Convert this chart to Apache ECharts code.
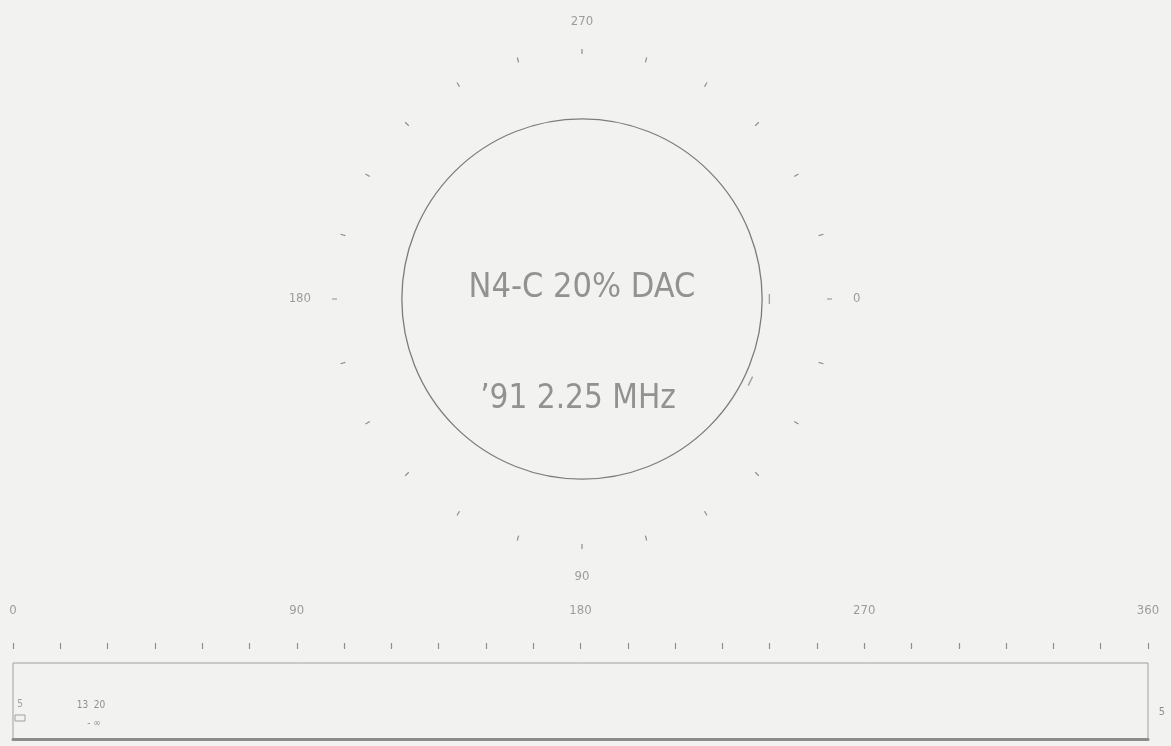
<!DOCTYPE html>
<html>
<head>
<meta charset="utf-8">
<script src="https://cdn.jsdelivr.net/npm/echarts@6/dist/echarts.min.js"></script>
<style>
  html, body { margin: 0; padding: 0; background: #f2f2f0; }
  #chart { width: 1171px; height: 746px; }
</style>
</head>
<body>
<div id="chart"></div>
<script>
// Polar scan plot: angle ticks every 15 degrees, labelled at the quadrants
const ANGLE_MIN = 0;
const ANGLE_MAX = 360;
const ANGLE_STEP = 15;
const ANGLE_LABELS = [0, 90, 180, 270];

// Radius scale: reference circle level and outer extent of the plot
const RADIUS_MAX = 136;
const REFERENCE_LEVEL = 100;

// Indications shown around the reference circle: [radius, angle]
const indications = [[104, 0], [104, 26]];

// Strip chart underneath: same 0-360 position scale
const STRIP_LABELS = [0, 90, 180, 270, 360];
const STRIP_Y_MAX = 10;

// Centre captions
const captionLines = ['N4-C 20% DAC', '\u201991 2.25 MHz'];

const FONT = '"Liberation Sans Narrow", "DejaVu Sans Condensed", "Roboto Condensed", "Liberation Sans", sans-serif';
const INK = '#8e8e8e';
const TEXT = '#9c9c9c';

const chart = echarts.init(document.getElementById('chart'), null, { renderer: 'canvas' });

chart.setOption({
  backgroundColor: '#f2f2f0',
  animation: false,
  polar: { center: [582, 299], radius: 245 },
  angleAxis: {
    type: 'value',
    min: ANGLE_MIN,
    max: ANGLE_MAX,
    interval: ANGLE_STEP,
    startAngle: 0,
    clockwise: true,
    axisLine: { show: false },
    axisTick: { show: true, length: 5, lineStyle: { color: INK, width: 1.2 } },
    splitLine: { show: false },
    axisLabel: {
      show: true,
      interval: 0,
      margin: 26,
      color: TEXT,
      fontFamily: FONT,
      fontSize: 13,
      formatter: v => (ANGLE_LABELS.indexOf(v) >= 0 ? String(v) : '')
    }
  },
  radiusAxis: {
    type: 'value',
    min: 0,
    max: RADIUS_MAX,
    interval: REFERENCE_LEVEL,
    axisLine: { show: false },
    axisTick: { show: false },
    axisLabel: { show: false },
    splitLine: {
      show: true,
      lineStyle: { color: ['rgba(0,0,0,0)', '#7c7c7c', 'rgba(0,0,0,0)'], width: 1.3 }
    }
  },
  grid: {
    left: 13,
    right: 23,
    top: 663,
    height: 76,
    show: true,
    borderColor: '#a0a0a0',
    borderWidth: 1,
    backgroundColor: 'transparent'
  },
  xAxis: [
    {
      type: 'value',
      position: 'bottom',
      min: ANGLE_MIN,
      max: ANGLE_MAX,
      interval: ANGLE_STEP,
      axisLine: { show: true, lineStyle: { color: '#8c8c8c', width: 3 } },
      axisTick: { show: false },
      axisLabel: { show: false },
      splitLine: { show: false }
    },
    {
      type: 'value',
      position: 'top',
      offset: 14,
      min: ANGLE_MIN,
      max: ANGLE_MAX,
      interval: ANGLE_STEP,
      axisLine: { show: false },
      axisTick: { show: true, length: 6, lineStyle: { color: INK, width: 1.2 } },
      splitLine: { show: false },
      axisLabel: {
        show: true,
        interval: 0,
        margin: 32,
        showMinLabel: true,
        showMaxLabel: true,
        color: TEXT,
        fontFamily: FONT,
        fontSize: 13,
        formatter: v => (STRIP_LABELS.indexOf(v) >= 0 ? String(v) : '')
      }
    }
  ],
  yAxis: {
    type: 'value',
    min: 0,
    max: STRIP_Y_MAX,
    show: false
  },
  series: [
    {
      type: 'scatter',
      coordinateSystem: 'polar',
      data: indications.map(d => ({ value: d, symbolRotate: -d[1] })),
      symbol: 'rect',
      symbolSize: [1.4, 10],
      itemStyle: { color: INK },
      silent: true
    }
  ],
  graphic: [
    {
      type: 'text',
      x: 582, y: 288,
      style: {
        text: captionLines[0],
        fill: '#929292',
        font: '34px ' + FONT,
        textAlign: 'center',
        textVerticalAlign: 'middle'
      }
    },
    {
      type: 'text',
      x: 578, y: 399,
      style: {
        text: captionLines[1],
        fill: '#929292',
        font: '33px ' + FONT,
        textAlign: 'center',
        textVerticalAlign: 'middle'
      }
    },
    {
      type: 'text',
      x: 91, y: 705,
      style: { text: '13  20', fill: '#8f8f8f', font: '10px ' + FONT, textAlign: 'center', textVerticalAlign: 'middle' }
    },
    {
      type: 'text',
      x: 94, y: 723,
      style: { text: '- \u221e', fill: '#8f8f8f', font: '10px ' + FONT, textAlign: 'center', textVerticalAlign: 'middle' }
    },
    {
      type: 'text',
      x: 20, y: 704,
      style: { text: '5', fill: '#a0a0a0', font: '10px ' + FONT, textAlign: 'center', textVerticalAlign: 'middle' }
    },
    {
      type: 'rect',
      shape: { x: 15, y: 715, width: 10, height: 6 },
      style: { fill: 'none', stroke: '#a0a0a0', lineWidth: 1 }
    },
    {
      type: 'text',
      x: 1162, y: 712,
      style: { text: '5', fill: '#8f8f8f', font: '11px ' + FONT, textAlign: 'center', textVerticalAlign: 'middle' }
    }
  ]
});
</script>
</body>
</html>
